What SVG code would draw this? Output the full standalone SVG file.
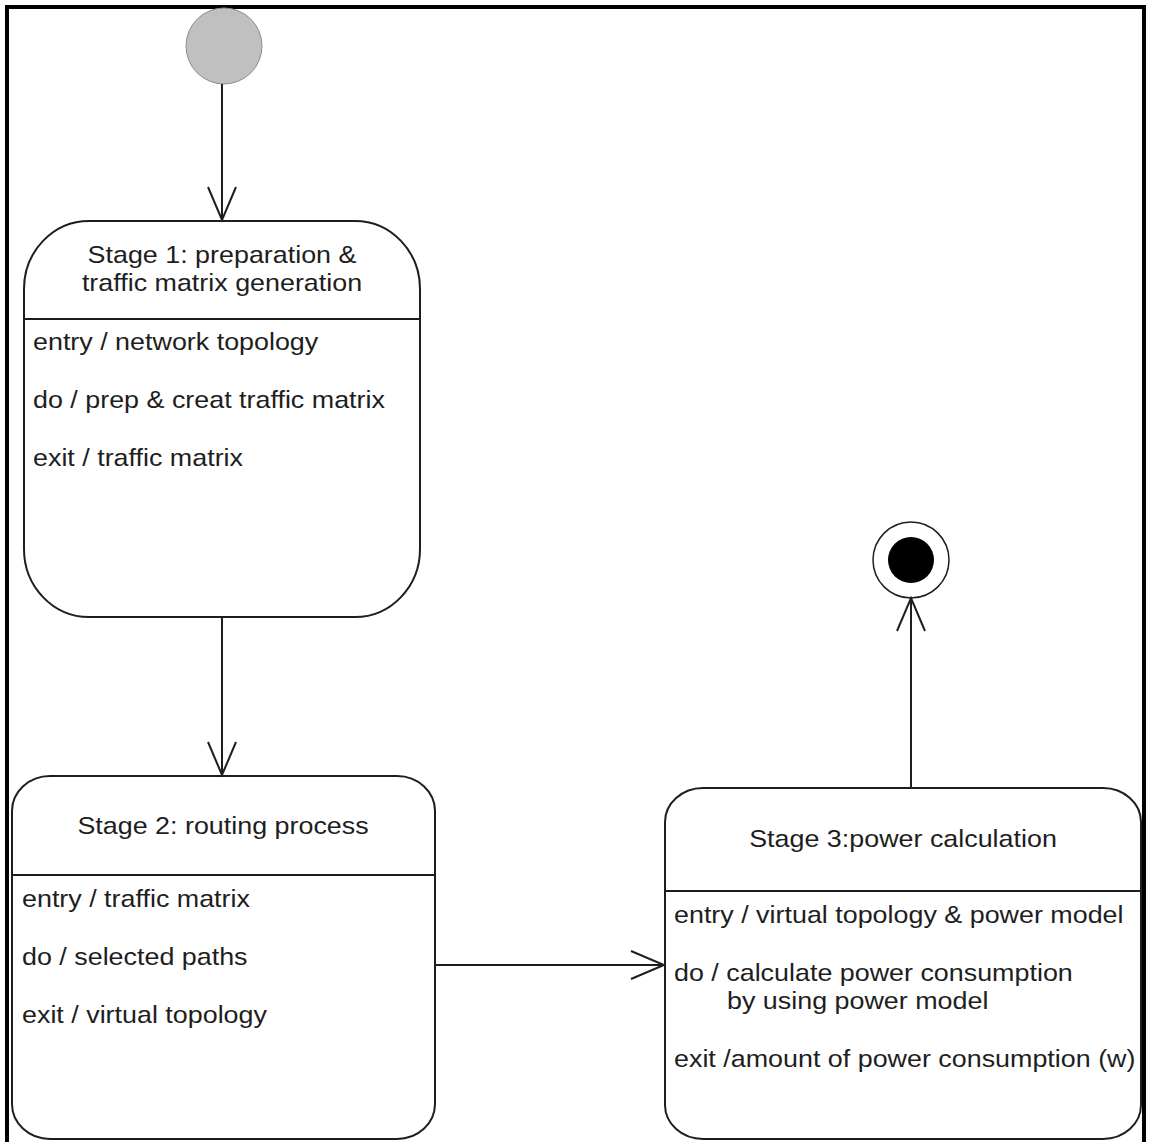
<svg xmlns="http://www.w3.org/2000/svg" width="1149" height="1142" viewBox="0 0 1149 1142">
<style>
.box{fill:#fff;stroke:#1e1e1e;stroke-width:2}
.div{stroke:#1e1e1e;stroke-width:2}
.t{font-family:"Liberation Sans",Arial,sans-serif;font-size:24px;fill:#1e1e1e}
.c{text-anchor:middle}
.edge{stroke:#1e1e1e;stroke-width:2;fill:none}
</style>
<defs>
<marker id="open" markerUnits="userSpaceOnUse" markerWidth="40" markerHeight="34" viewBox="-36 -17 40 34" refX="0" refY="0" orient="auto">
<path d="M-33,-14 L0,0 L-33,14" fill="none" stroke="#1e1e1e" stroke-width="2"/>
</marker>
</defs>
<rect x="0" y="0" width="1149" height="1142" fill="#fff"/>
<rect x="7" y="7" width="1137" height="1160" fill="none" stroke="#000" stroke-width="4"/>

<g id="initial">
<circle cx="224" cy="46" r="38" fill="#c0c0c0" stroke="#8a8a8a" stroke-width="1"/>
</g>

<g id="final">
<circle cx="911" cy="560" r="38" fill="#fff" stroke="#1e1e1e" stroke-width="1.5"/>
<circle cx="911" cy="560" r="23" fill="#000"/>
</g>

<g id="stage1">
<rect class="box" x="24" y="221" width="396" height="396" rx="65" ry="68"/>
<line class="div" x1="24" y1="319" x2="420" y2="319"/>
<text class="t c" transform="matrix(1.12 0 0 1 222 263)">Stage 1: preparation &amp;</text>
<text class="t c" transform="matrix(1.12 0 0 1 222 291)">traffic matrix generation</text>
<text class="t" transform="matrix(1.12 0 0 1 33 350)">entry / network topology</text>
<text class="t" transform="matrix(1.12 0 0 1 33 408)">do / prep &amp; creat traffic matrix</text>
<text class="t" transform="matrix(1.12 0 0 1 33 466)">exit / traffic matrix</text>
</g>

<g id="stage2">
<rect class="box" x="12" y="776" width="423" height="363" rx="38" ry="35"/>
<line class="div" x1="12" y1="875" x2="435" y2="875"/>
<text class="t c" transform="matrix(1.12 0 0 1 223 834)">Stage 2: routing process</text>
<text class="t" transform="matrix(1.12 0 0 1 22 907)">entry / traffic matrix</text>
<text class="t" transform="matrix(1.12 0 0 1 22 965)">do / selected paths</text>
<text class="t" transform="matrix(1.12 0 0 1 22 1023)">exit / virtual topology</text>
</g>

<g id="stage3">
<rect class="box" x="665" y="788" width="476" height="351" rx="38" ry="34"/>
<line class="div" x1="665" y1="891" x2="1141" y2="891"/>
<text class="t c" transform="matrix(1.12 0 0 1 903 847)">Stage 3:power calculation</text>
<text class="t" transform="matrix(1.12 0 0 1 674 923)">entry / virtual topology &amp; power model</text>
<text class="t" transform="matrix(1.12 0 0 1 674 981)">do / calculate power consumption</text>
<text class="t" transform="matrix(1.12 0 0 1 727 1009)">by using power model</text>
<text class="t" transform="matrix(1.12 0 0 1 674 1067)">exit /amount of power consumption (w)</text>
</g>

<g id="connectors">
<line class="edge" x1="222" y1="84" x2="222" y2="220" marker-end="url(#open)"/>
<line class="edge" x1="222" y1="617" x2="222" y2="775" marker-end="url(#open)"/>
<line class="edge" x1="435" y1="965" x2="664" y2="965" marker-end="url(#open)"/>
<line class="edge" x1="911" y1="788" x2="911" y2="598" marker-end="url(#open)"/>
</g>
</svg>
